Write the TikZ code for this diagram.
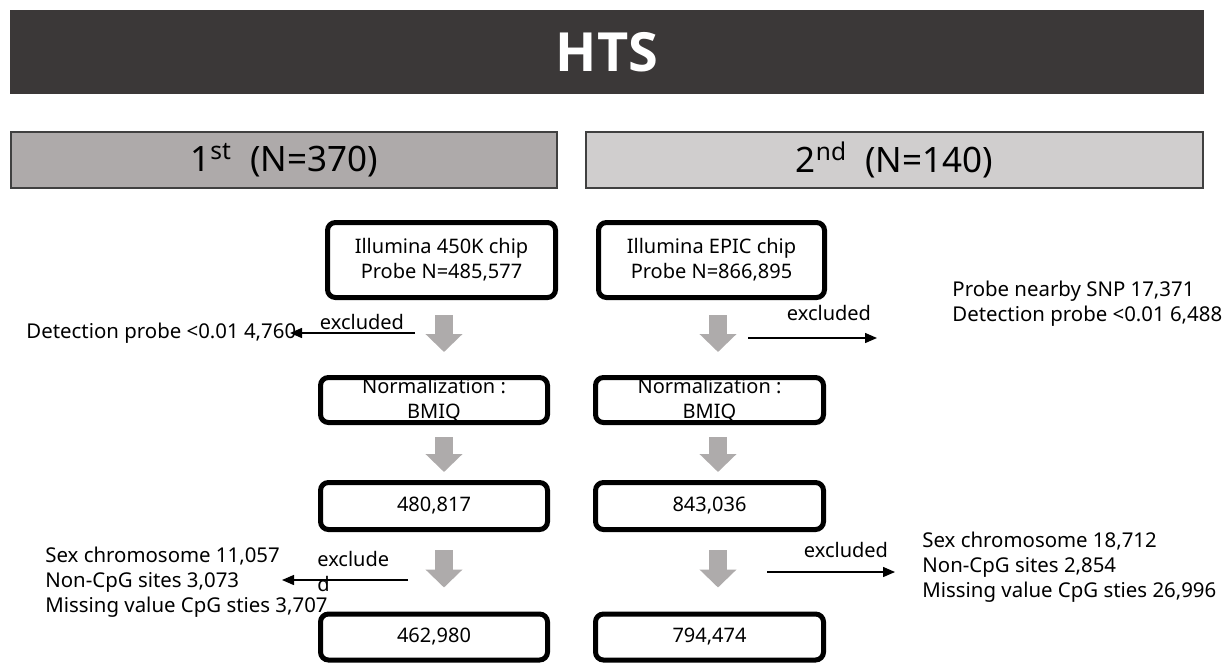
\documentclass[tikz,border=0pt]{standalone}
\usepackage{fontspec}
\setmainfont{Noto Sans}
\newfontfamily\htsfont{Open Sans}
\usepackage{tikz}
\usetikzlibrary{
  arrows.meta,
  positioning,
  calc
}
\definecolor{htsDark}{HTML}{3B3838}
\definecolor{htsFirst}{HTML}{AEAAAA}
\definecolor{htsSecond}{HTML}{D0CECE}
\definecolor{htsEdge}{HTML}{404040}
\definecolor{htsArrow}{HTML}{AEABAB}
\tikzset{
  titlebar/.style={
    fill=htsDark, text=white, minimum width=597pt, minimum height=42pt,
    font=\htsfont\fontsize{27}{30}\selectfont\bfseries, inner sep=0pt
  },
  header/.style={
    draw=htsEdge, line width=0.8pt, minimum width=273pt, minimum height=28pt,
    font=\fontsize{17.5}{20}\selectfont, inner sep=0pt
  },
  chipbox/.style={
    draw, line width=2.5pt, rounded corners=4pt, align=center,
    font=\fontsize{10}{12.5}\selectfont, inner sep=0pt, fill=white
  },
  sidetext/.style={font=\fontsize{10.2}{12.5}\selectfont, align=left, inner sep=0pt},
  exlabel/.style={font=\fontsize{10}{12.5}\selectfont, align=left, inner sep=0pt},
  downarrow/.style={line width=9pt, htsArrow, -{Triangle[width=18pt, length=9pt]}},
  exclarrow/.style={line width=0.7pt, -{Triangle[width=5pt, length=6pt]}}
}
\begin{document}
\begin{tikzpicture}[x=0.5pt, y=-0.5pt]
  \useasboundingbox (0,0) rectangle (1229,664);
  % banner and the two batches
  \node[titlebar] (hts) at (607,52) {HTS};
  \node[header, fill=htsFirst] (first) at (284,160) {1\textsuperscript{st}~~(N=370)};
  \node[header, fill=htsSecond, minimum width=308.7pt] (second) at (894.5,160) {2\textsuperscript{nd}~~(N=140)};

  % 1st batch
  \node[chipbox, minimum width=114pt, minimum height=37.5pt] (l1) at (441.5,260) {Illumina 450K chip\\Probe N=485,577};
  \node[chipbox, minimum width=113.5pt, minimum height=22.5pt, fill=none] (l2) at (434,400) {Normalization :\\BMIQ};
  \node[chipbox, minimum width=113.5pt, minimum height=23.5pt] (l3) at (434,506) {480,817};
  \node[chipbox, minimum width=113.5pt, minimum height=23pt] (l4) at (434,637) {462,980};

  % 2nd batch
  \node[chipbox, minimum width=113pt, minimum height=37.5pt] (r1) at (711.5,260) {Illumina EPIC chip\\Probe N=866,895};
  \node[chipbox, minimum width=114pt, minimum height=22.5pt, fill=none] (r2) at (709.5,400) {Normalization :\\BMIQ};
  \node[chipbox, minimum width=114pt, minimum height=23.5pt] (r3) at (709.5,506) {843,036};
  \node[chipbox, minimum width=114pt, minimum height=23pt] (r4) at (709.5,637) {794,474};

  % gray step arrows
  \coordinate (lc) at (444,0);
  \coordinate (rc) at (718,0);
  \draw[downarrow, shorten <=7.5pt, shorten >=11.5pt] (l1.south -| lc) -- (l2.north -| lc);
  \draw[downarrow, shorten <=6pt, shorten >=4pt] (l2.south -| lc) -- (l3.north -| lc);
  \draw[downarrow, shorten <=9pt, shorten >=12pt] (l3.south -| lc) -- (l4.north -| lc);
  \draw[downarrow, shorten <=7.5pt, shorten >=11.5pt] (r1.south -| rc) -- (r2.north -| rc);
  \draw[downarrow, shorten <=6pt, shorten >=4pt] (r2.south -| rc) -- (r3.north -| rc);
  \draw[downarrow, shorten <=9pt, shorten >=12pt] (r3.south -| rc) -- (r4.north -| rc);

  % excluded probes
  \node[sidetext, anchor=west] (det1) at (26,333) {Detection probe <0.01 4,760};
  \node[sidetext, anchor=west] (det2) at (952,304) {Probe nearby SNP 17,371\\Detection probe <0.01 6,488};
  \node[sidetext, anchor=west] (det3) at (45,582) {Sex chromosome 11,057\\Non-CpG sites 3,073\\Missing value CpG sties 3,707};
  \node[sidetext, anchor=west] (det4) at (922,567) {Sex chromosome 18,712\\Non-CpG sites 2,854\\Missing value CpG sties 26,996};

  \node[exlabel] (ex1) at (362,322) {excluded};
  \node[exlabel] (ex2) at (829,313) {excluded};
  \node[exlabel, anchor=west] (ex3) at (317,571) {exclude\\d};
  \node[exlabel] (ex4) at (846,550) {excluded};

  \coordinate (e1a) at (415,333);
  \coordinate (e1b) at (290,333);
  \coordinate (e2a) at (748,338);
  \coordinate (e2b) at (877,338);
  \coordinate (e3a) at (408,580);
  \coordinate (e3b) at (282,580);
  \coordinate (e4a) at (767,572);
  \coordinate (e4b) at (895,572);
  \draw[exclarrow] (e1a) -- (e1b);
  \draw[exclarrow] (e2a) -- (e2b);
  \draw[exclarrow] (e3a) -- (e3b);
  \draw[exclarrow] (e4a) -- (e4b);
\end{tikzpicture}
\end{document}
